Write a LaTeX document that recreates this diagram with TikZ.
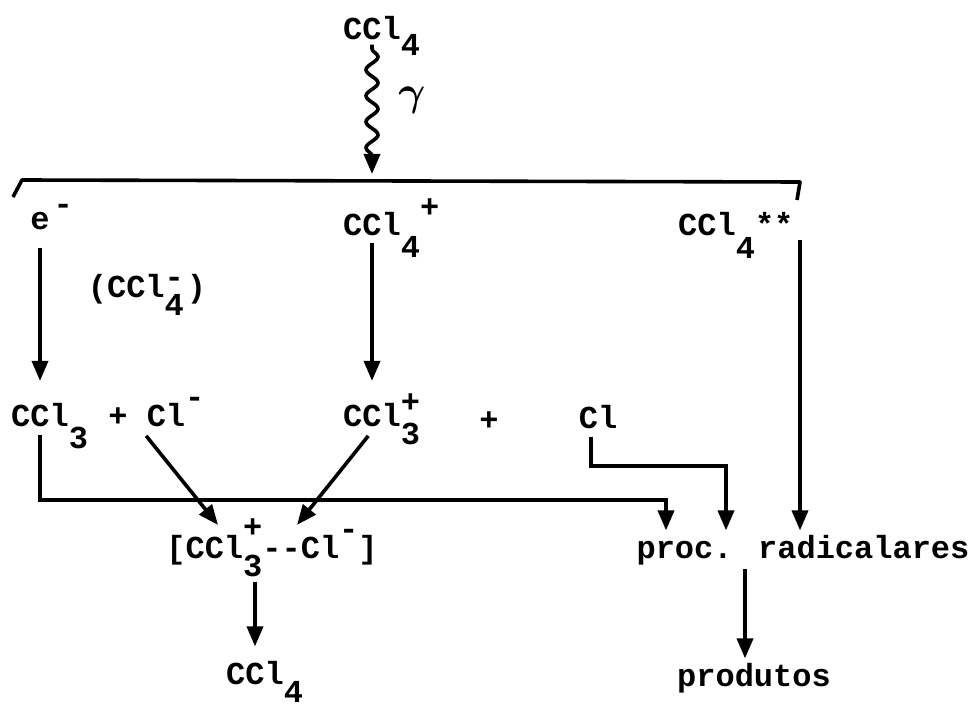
\documentclass[tikz,border=0pt]{standalone}
\usepackage{fontspec}
\usepackage{tikz}
\usetikzlibrary{arrows.meta,positioning,calc,decorations.pathmorphing}
\newfontfamily\chemfont{Liberation Mono}
\newcommand{\lowix}[2][0.68em]{\smash{\raisebox{-#1}{#2}}}
\newcommand{\highix}[2][0.44em]{\smash{\raisebox{#1}{#2}}}
\newcommand{\stackix}[3][0.44em]{\rlap{\highix[#1]{#2}}\lowix[0.56em]{#3}}

\begin{document}
\begin{tikzpicture}[
    x=0.5pt, y=-0.5pt,
    >=Triangle,
    species/.style={inner sep=2pt, anchor=base,
        font=\chemfont\fontsize{16}{19}\selectfont\bfseries},
    arr/.style={-{Triangle[length=10pt,width=8pt]}, line width=1.8pt},
    wave/.style={arr, decorate, decoration={snake, segment length=13pt,
        amplitude=3pt, pre length=2pt, post length=9pt}},
    bracketline/.style={line width=1.8pt, line join=round},
]
\useasboundingbox (0,0) rectangle (973,711);

% species
\node[species] (ccltop) at (372,40) {CCl\rlap{\lowix[0.47em]{4}}};
\node[inner sep=1pt, font=\fontsize{20}{22}\selectfont\boldmath] (gam) at (412,100) {$\gamma$};
\node[species] (em) at (40,229) {e\rlap{\kern2pt\highix{-}}};
\node[species] (cclplus) at (372,235.5) {CCl\rlap{\lowix{4}\highix[0.55em]{+}}};
\node[species] (cclstar) at (707,235.5) {CCl\rlap{\lowix[0.72em]{4}**}};
\node[species] (anion) at (147,297.5) {(CCl\stackix[0.3em]{-}{4}\kern1.5pt)};
\node[species] (cclthree) at (40,426.5) {CCl\rlap{\lowix{3}}};
\node[species] (plusa) at (118,426.5) {+};
\node[species] (clminus) at (166,426.5) {Cl\rlap{\highix[0.6em]{-}}};
\node[species] (cclplusthree) at (372,426.5) {CCl\rlap{\stackix{+}{3}}};
\node[species] (plusb) at (489,430) {+};
\node[species] (clrad) at (598,428) {Cl};
\node[species] (cplx) at (272,558.5) {[CCl\stackix[0.66em]{+}{3}--Cl\highix[0.6em]{-}]};
\node[species] (proc) at (803,558) {proc. radicalares};
\node[species] (cclbot) at (255,684) {CCl\rlap{\lowix[0.58em]{4}}};
\node[species] (prod) at (754,686) {produtos};

% bracket and bends
\coordinate (barL0) at (13,197);
\coordinate (barL) at (22,180);
\coordinate (barR) at (800,182);
\coordinate (barR0) at (797,200);
\coordinate (hit) at (372,174);
\coordinate (jA) at (666,500);
\coordinate (jB) at (726,466);

\draw[wave] (ccltop.south) -- (hit);
\draw[bracketline] (barL0) -- (barL) -- (barR) -- (barR0);

\draw[arr, shorten <=7pt, shorten >=9pt] (em.south) -- (cclthree.north);
\draw[arr, shorten <=1.5pt, shorten >=9pt] (cclplus.south) -- (cclplusthree.north);
\draw[arr] (cclstar.south -| barR) -- (proc.north -| barR);
\draw[arr, shorten <=2pt] (cclthree.south) |- (jA) -- (jA |- proc.north);
\draw[arr, shorten <=2pt] ([xshift=-3.5pt]clrad.south) |- (jB) -- (jB |- proc.north);
\draw[arr, shorten <=3pt] (clminus.south west) -- ([xshift=-27pt,yshift=3pt]cplx.north);
\draw[arr, shorten <=3pt] (cclplusthree.south) -- ([xshift=12.5pt,yshift=3pt]cplx.north);
\draw[arr, shorten <=6pt, shorten >=5pt] (cclbot.north |- cplx.south) -- (cclbot.north);
\draw[arr] ([xshift=-4.5pt]prod.north |- proc.south) -- ([xshift=-4.5pt]prod.north);
\end{tikzpicture}
\end{document}
